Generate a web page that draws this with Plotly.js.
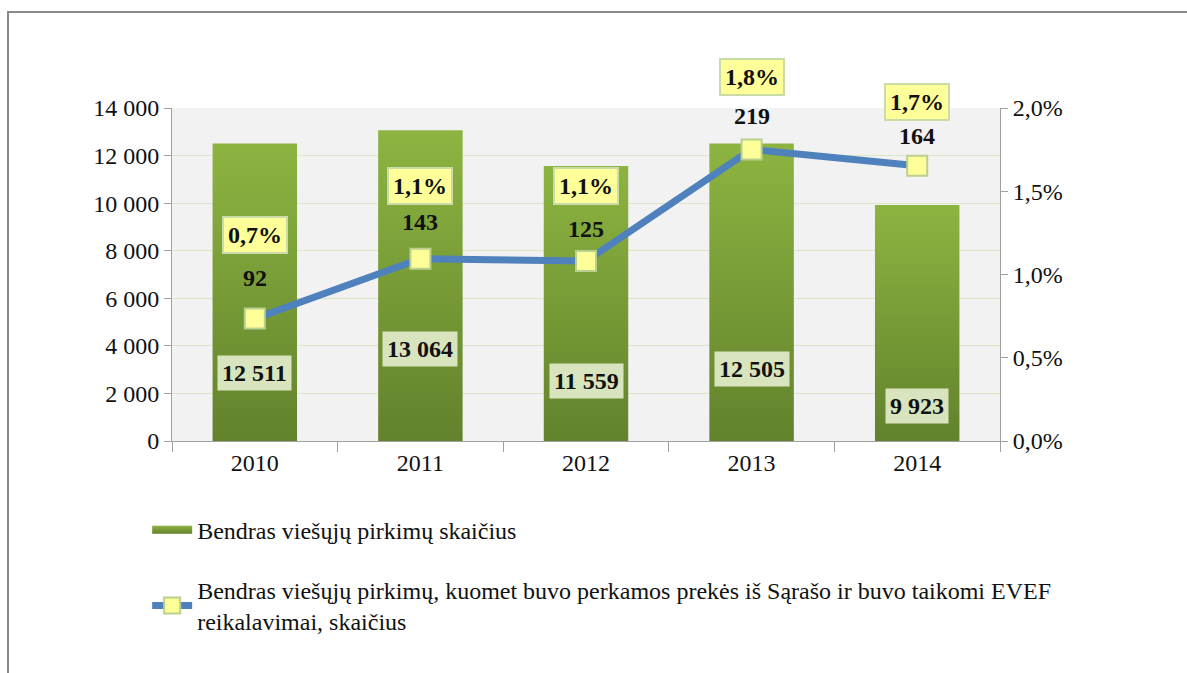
<!DOCTYPE html>
<html>
<head>
<meta charset="utf-8">
<script src="https://cdn.plot.ly/plotly-3.0.1.min.js"></script>
<style>
  html, body { margin: 0; padding: 0; background: #fff; }
  #wrap { position: relative; width: 1187px; height: 673px; }
  #chart { position: absolute; left: 0; top: 0; width: 1187px; height: 673px; }
  #frame { position: absolute; left: 7px; top: 11px; right: 0; bottom: 0;
           border-top: 2px solid #8a8a8a; border-left: 2px solid #8a8a8a;
           pointer-events: none; }
</style>
</head>
<body>
<div id="wrap">
  <div id="chart"></div>
  <div id="frame"></div>
</div>
<script>
// ---- data ----
const years = ['2010', '2011', '2012', '2013', '2014'];
const totalProcurements = [12511, 13064, 11559, 12505, 9923];
const evefProcurements = [92, 143, 125, 219, 164];
const evefShare = [0.00735, 0.01095, 0.01081, 0.01751, 0.01653];
const barName = 'Bendras viešųjų pirkimų skaičius';
const lineName = 'Bendras viešųjų pirkimų, kuomet buvo perkamos prekės iš Sąrašo ir buvo taikomi EVEF<br>reikalavimai, skaičius';

// ---- label placement (pixel offsets, layout only) ----
const barLabelShift = [68, 92, 60, 72, 35];
const countLabelShift = [41, 37, 32, 33, 30];
const pctLabelShift = [84, 73, 75, 72, 64];

const FONT = '"Liberation Serif", "Times New Roman", serif';
const FS = 24;

function fmtThousands(v) {
  return String(v).replace(/\B(?=(\d{3})+(?!\d))/g, ' ');
}
function fmtPct(v) {
  return (v * 100).toFixed(1).replace('.', ',') + '%';
}

const traces = [
  {
    type: 'bar', x: years, y: totalProcurements, name: barName,
    marker: { color: '#77a03a' }, width: 0.51,
    legendgroup: 'a', hoverinfo: 'skip'
  },
  {
    type: 'scatter', mode: 'lines+markers', x: years, y: evefShare, yaxis: 'y2',
    name: lineName, legendgroup: 'b', hoverinfo: 'skip',
    line: { color: '#4f81bd', width: 7 },
    marker: { symbol: 'square', size: 20, color: '#ffff99', line: { color: '#b9d08f', width: 2 } }
  }
];

const annotations = [];
years.forEach((yr, i) => {
  annotations.push({
    x: i, y: 0, xref: 'x', yref: 'y', yshift: barLabelShift[i],
    text: '<b>' + fmtThousands(totalProcurements[i]) + '</b>', showarrow: false,
    font: { family: FONT, size: FS, color: '#111' },
    bgcolor: '#d8e4bd', borderpad: 4
  });
  annotations.push({
    x: i, y: evefShare[i], xref: 'x', yref: 'y2', yshift: countLabelShift[i],
    text: '<b>' + evefProcurements[i] + '</b>', showarrow: false,
    font: { family: FONT, size: FS, color: '#111' }
  });
  annotations.push({
    x: i, y: evefShare[i], xref: 'x', yref: 'y2', yshift: pctLabelShift[i],
    text: '<b>' + fmtPct(evefShare[i]) + '</b>', showarrow: false,
    font: { family: FONT, size: FS, color: '#111' },
    bgcolor: '#ffff99', bordercolor: '#c9dba6', borderwidth: 2, borderpad: 4
  });
});

const layout = {
  width: 1187, height: 673,
  margin: { l: 172, r: 187, t: 108, b: 232 },
  paper_bgcolor: 'rgba(0,0,0,0)',
  plot_bgcolor: '#f2f2f2',
  separators: ', ',
  font: { family: FONT, size: FS, color: '#111' },
  showlegend: true,
  legend: {
    x: -0.03, xanchor: 'left', y: -0.2, yanchor: 'top',
    orientation: 'v', traceorder: 'grouped', tracegroupgap: 26,
    itemwidth: 40, font: { family: FONT, size: FS, color: '#111' },
    bgcolor: 'rgba(0,0,0,0)'
  },
  xaxis: {
    type: 'category', range: [-0.5, years.length - 0.5], autorange: false,
    tickson: 'boundaries', ticks: 'outside', ticklen: 10, tickangle: 0,
    tickcolor: '#a0a0a0', showline: true, linecolor: '#a0a0a0', linewidth: 1,
    showgrid: false, tickfont: { family: FONT, size: FS, color: '#111' },
    fixedrange: true
  },
  yaxis: {
    range: [0, 14000], dtick: 2000, tickformat: ',d', ticks: 'outside', ticklen: 7,
    tickcolor: '#a0a0a0', showline: true, linecolor: '#a0a0a0', linewidth: 1,
    gridcolor: '#dbe8c6', gridwidth: 1, zeroline: false,
    tickfont: { family: FONT, size: FS, color: '#111' }, fixedrange: true
  },
  yaxis2: {
    overlaying: 'y', side: 'right', range: [0, 0.02], dtick: 0.005, tickformat: '.1%',
    ticks: 'outside', ticklen: 7, tickcolor: '#a0a0a0', showline: true,
    linecolor: '#a0a0a0', linewidth: 1, showgrid: false, zeroline: false,
    tickfont: { family: FONT, size: FS, color: '#111' }, fixedrange: true
  },
  annotations: annotations
};

function applyGradient(gd) {
  const svg = gd.querySelector('svg.main-svg');
  if (!svg) return;
  const ns = 'http://www.w3.org/2000/svg';
  let defs = svg.querySelector('defs#custom-defs');
  if (!defs) {
    defs = document.createElementNS(ns, 'defs');
    defs.setAttribute('id', 'custom-defs');
    const g = document.createElementNS(ns, 'linearGradient');
    g.setAttribute('id', 'barGrad');
    g.setAttribute('x1', '0'); g.setAttribute('y1', '0');
    g.setAttribute('x2', '0'); g.setAttribute('y2', '1');
    [['0%', '#8db441'], ['100%', '#62822c']].forEach(([o, c]) => {
      const s = document.createElementNS(ns, 'stop');
      s.setAttribute('offset', o); s.setAttribute('stop-color', c);
      g.appendChild(s);
    });
    defs.appendChild(g);
    svg.insertBefore(defs, svg.firstChild);
  }
  gd.querySelectorAll('.barlayer .point path').forEach(p => { p.style.fill = 'url(#barGrad)'; });
  gd.querySelectorAll('.legend .legendpoints path.legendundefined').forEach(p => {
    p.setAttribute('d', 'M-20,-4h40v8h-40Z');
    p.style.fill = 'url(#barGrad)';
    p.style.stroke = 'none';
  });
}

const gd = document.getElementById('chart');
Plotly.newPlot(gd, traces, layout, { staticPlot: true, displayModeBar: false }).then(() => {
  applyGradient(gd);
});
</script>
</body>
</html>
